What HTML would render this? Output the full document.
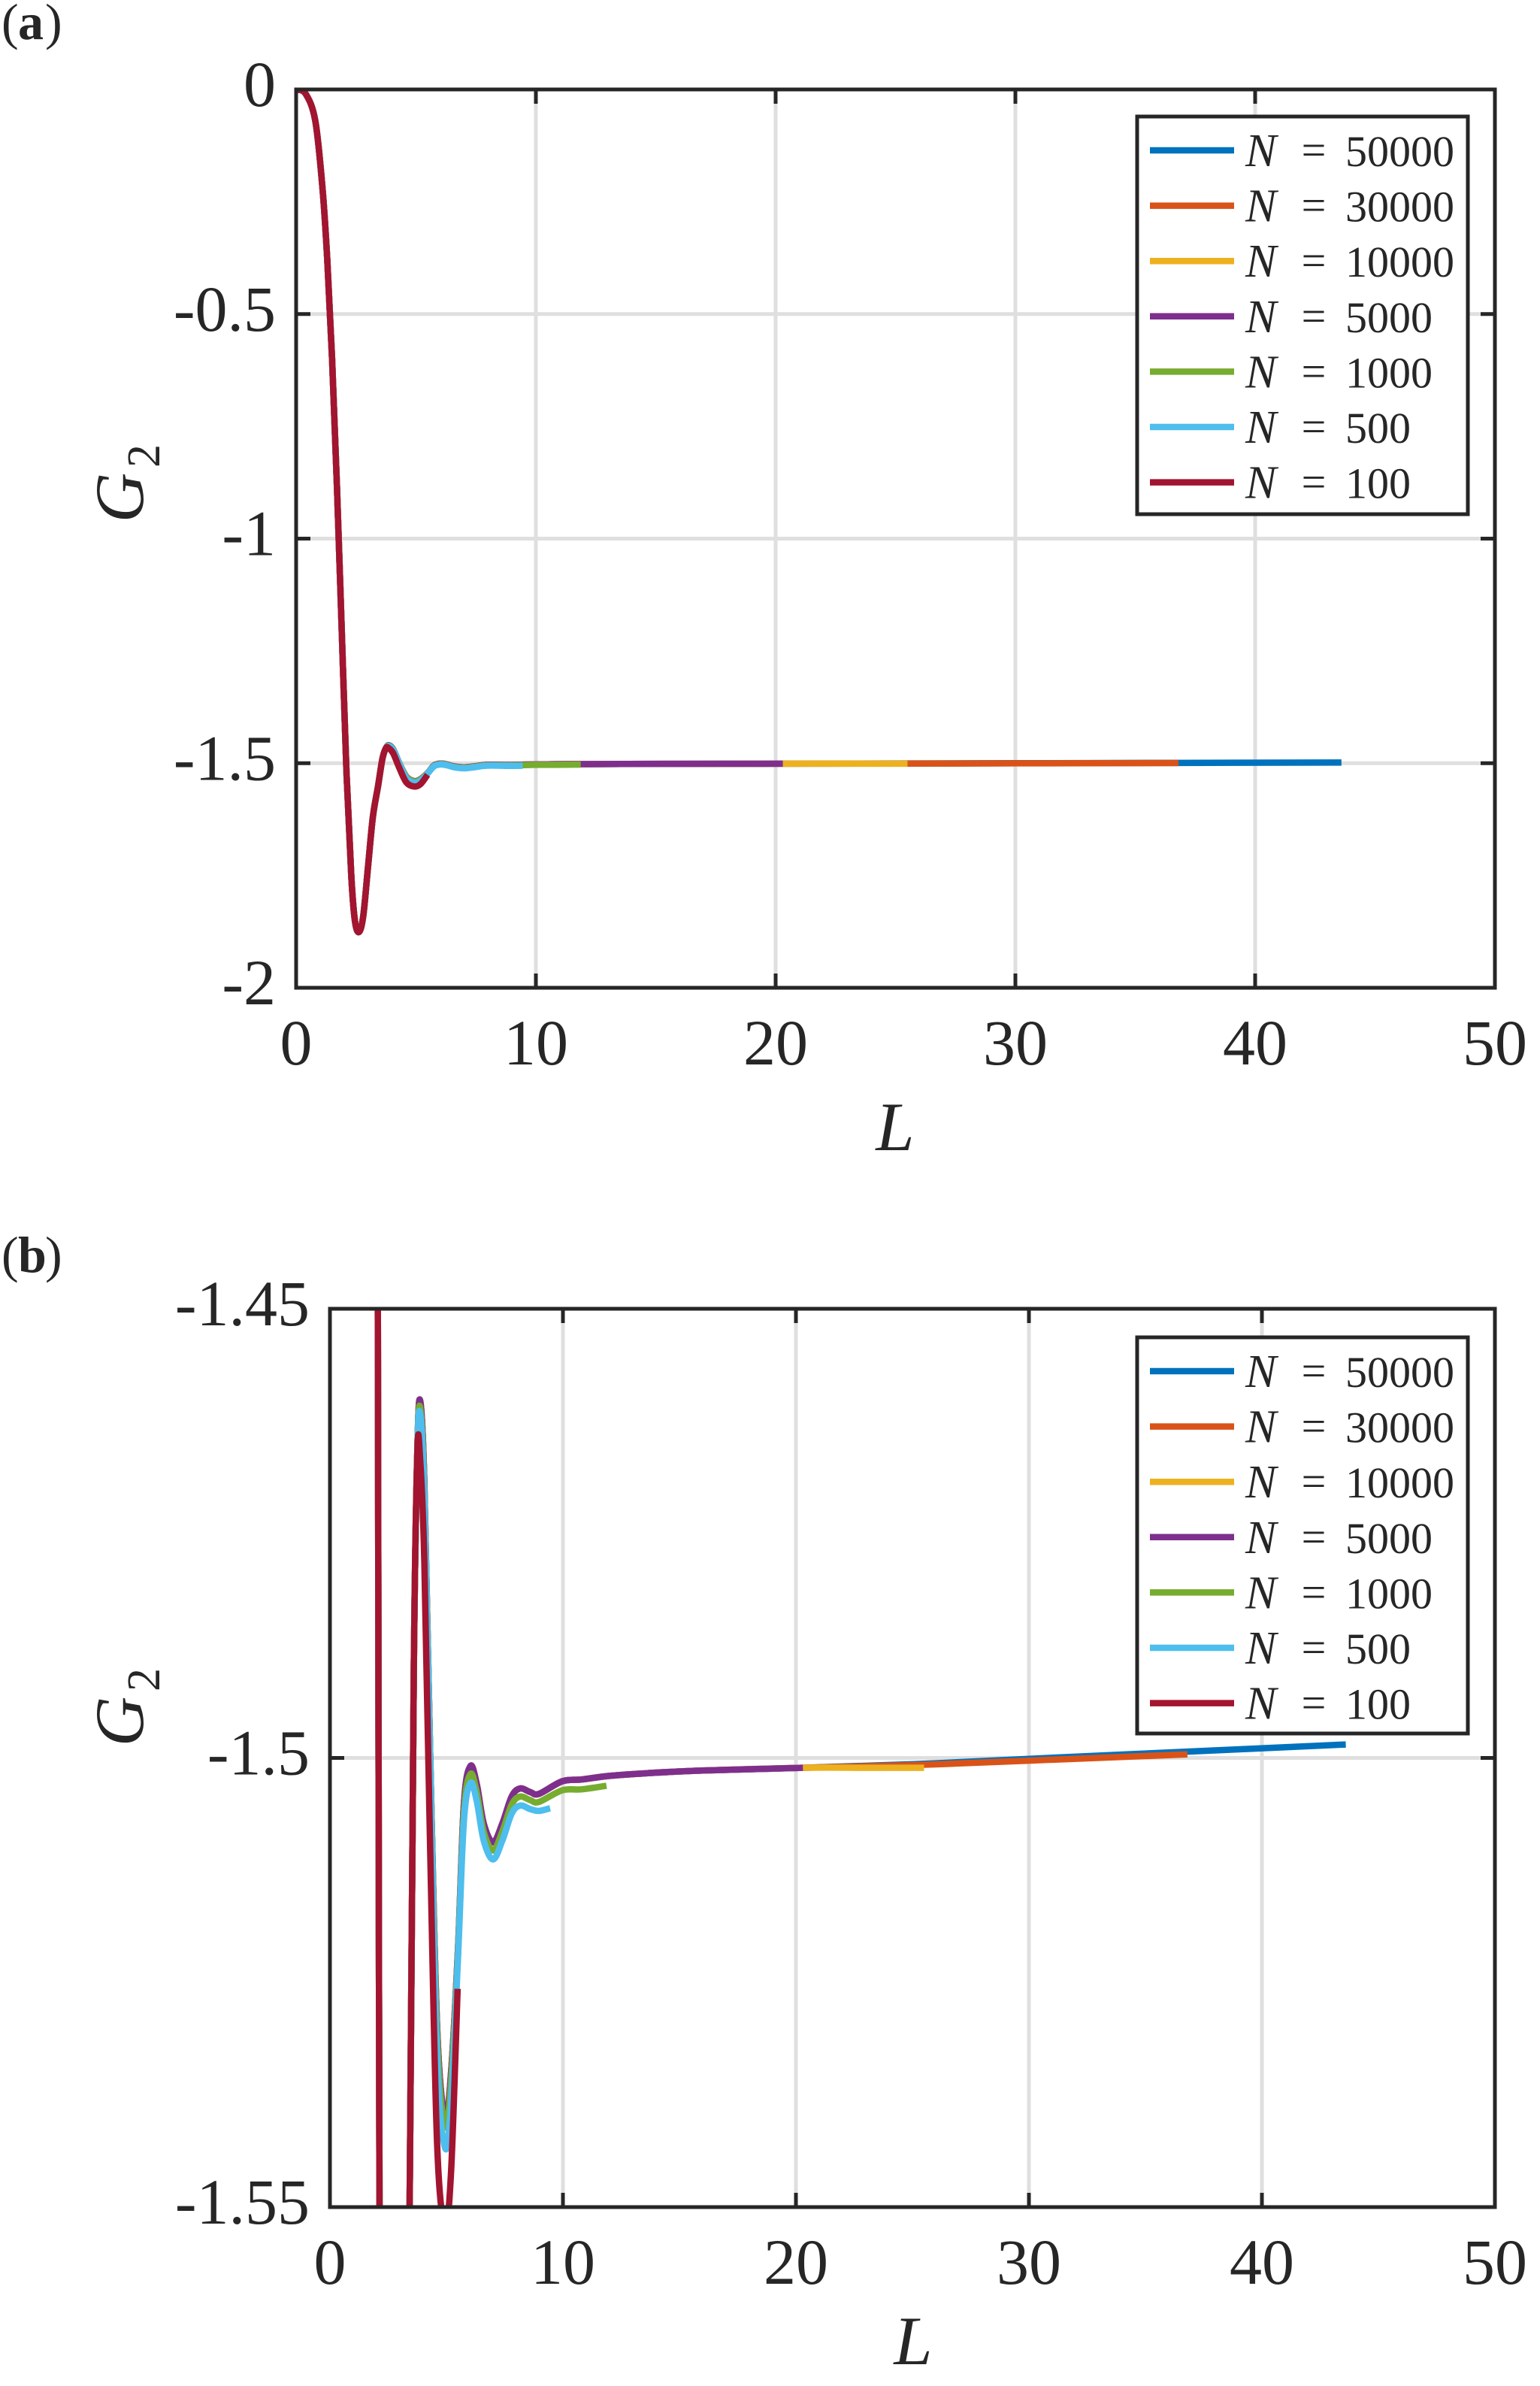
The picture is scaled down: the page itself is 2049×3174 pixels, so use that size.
<!DOCTYPE html>
<html><head><meta charset="utf-8">
<style>
html,body{margin:0;padding:0;background:#fff;overflow:hidden;}
svg{display:block;}
text{font-family:"Liberation Serif",serif;fill:#262626;}
</style></head>
<body>
<svg id="s" width="2049" height="3174" viewBox="0 0 2049 3174" xmlns="http://www.w3.org/2000/svg">
<defs>
<clipPath id="ca"><rect x="394" y="119" width="1595" height="1195"/></clipPath>
<clipPath id="cb"><rect x="439" y="1741" width="1550" height="1195"/></clipPath>
</defs>
<rect width="2049" height="3174" fill="#fff"/>
<g id="root"></g>
</svg>
<script>
const NS="http://www.w3.org/2000/svg";
const root=document.getElementById('root');
function el(tag,attrs,txt){const e=document.createElementNS(NS,tag);for(const k in attrs)e.setAttribute(k,attrs[k]);if(txt!==undefined)e.textContent=txt;root.appendChild(e);return e;}
const common=[[0,0],[0.4,-0.01],[0.8,-0.07],[1.1,-0.22],[1.3,-0.38],[1.5,-0.6],[1.7,-0.88],[1.9,-1.2],[2.1,-1.52],[2.3,-1.75],[2.45,-1.85],[2.62,-1.876],[2.8,-1.84],[3.0,-1.73],[3.2,-1.62],[3.42,-1.55],[3.6,-1.49],[3.75,-1.466]];
function mid(pk,tr,d){return [[3.87,pk],[4.05,pk-0.009],[4.3,-1.5+d*0.3],[4.6,tr+0.01],[4.94,tr],[5.2,tr+0.005],[5.5,-1.522+d*0.5],[5.75,-1.507+d],[6.03,-1.5028+d],[6.3,-1.5048+d],[6.6,-1.5092+d],[7.0,-1.5113+d],[7.4,-1.5092+d],[7.8,-1.5062+d],[8.16,-1.5053+d],[8.6,-1.5057+d],[8.97,-1.5059+d]];}
const cyan=common.concat(mid(-1.4617,-1.5434,0),[[9.45,-1.5056]]);
const green=common.concat(mid(-1.461,-1.541,0.001),[[9.97,-1.5036],[10.8,-1.5035],[11.87,-1.5031]]);
const pbase=common.concat(mid(-1.4602,-1.540,0.0019),[[9.97,-1.5026],[10.8,-1.5024],[12,-1.502],[13.6,-1.5017],[16,-1.5014],[20.3,-1.5011]]);
const purple=pbase;
const yellow=pbase.concat([[23,-1.5011],[25.5,-1.5011]]);
const orange=pbase.concat([[25,-1.5008],[30,-1.5003],[36.8,-1.4996]]);
const blue=pbase.concat([[25,-1.5007],[30,-1.5001],[36.8,-1.4993],[43.6,-1.4985]]);
const red=common.concat([[3.87,-1.4667],[4.05,-1.478],[4.3,-1.51],[4.6,-1.543],[4.94,-1.552],[5.2,-1.546],[5.48,-1.5257]]);
const series=[[blue,'#0072BD','50000'],[orange,'#D95319','30000'],[yellow,'#EDB120','10000'],[purple,'#7E2F8E','5000'],[green,'#77AC30','1000'],[cyan,'#4DBEEE','500'],[red,'#A2142F','100']];
function pathCR(pts){let d='M'+pts[0][0].toFixed(2)+','+pts[0][1].toFixed(2);
 for(let i=0;i<pts.length-1;i++){const p0=pts[Math.max(0,i-1)],p1=pts[i],p2=pts[i+1],p3=pts[Math.min(pts.length-1,i+2)];
  const c1=[p1[0]+(p2[0]-p0[0])/6,p1[1]+(p2[1]-p0[1])/6],c2=[p2[0]-(p3[0]-p1[0])/6,p2[1]-(p3[1]-p1[1])/6];
  d+=' C'+c1[0].toFixed(2)+','+c1[1].toFixed(2)+' '+c2[0].toFixed(2)+','+c2[1].toFixed(2)+' '+p2[0].toFixed(2)+','+p2[1].toFixed(2);}
 return d;}
function panel(P){
 const X=L=>P.x0+(L/50)*(P.x1-P.x0), Y=g=>P.y0+(P.ymax-g)/(P.ymax-P.ymin)*(P.y1-P.y0);
 for(const L of [10,20,30,40]) el('line',{x1:X(L),x2:X(L),y1:P.y0,y2:P.y1,stroke:'#dfdfdf','stroke-width':5});
 for(const g of P.grid) el('line',{x1:P.x0,x2:P.x1,y1:Y(g),y2:Y(g),stroke:'#dfdfdf','stroke-width':5});
 for(const [pts,c] of series){el('path',{d:pathCR(pts.map(p=>[X(p[0]),Y(p[1])])),fill:'none',stroke:c,'stroke-width':8.5,'stroke-linejoin':'round','clip-path':P.clip});}
 el('rect',{x:P.x0,y:P.y0,width:P.x1-P.x0,height:P.y1-P.y0,fill:'none',stroke:'#262626','stroke-width':5});
 const t=19;
 for(const L of [0,10,20,30,40,50]){const x=X(L);el('line',{x1:x,x2:x,y1:P.y1,y2:P.y1-t,stroke:'#262626','stroke-width':5});el('line',{x1:x,x2:x,y1:P.y0,y2:P.y0+t,stroke:'#262626','stroke-width':5});
  el('text',{x:x,y:P.y1+102,'font-size':86,'text-anchor':'middle'},String(L));}
 for(const [g,lab] of P.yt){const y=Y(g);el('line',{x1:P.x0,x2:P.x0+t,y1:y,y2:y,stroke:'#262626','stroke-width':5});el('line',{x1:P.x1,x2:P.x1-t,y1:y,y2:y,stroke:'#262626','stroke-width':5});
  el('text',{x:P.x0-27,y:y+22,'font-size':86,'text-anchor':'end'},lab);}
 el('text',{x:P.lx,y:P.ly,'font-size':92,'font-style':'italic','text-anchor':'middle'},'L');
 el('text',{transform:`translate(${P.gx},${P.gy}) rotate(-90)`,'font-size':92,'font-style':'italic','text-anchor':'middle'},'G');
 el('text',{transform:`translate(${P.gx+22},${P.gy-40}) rotate(-90)`,'font-size':62},'2');
 el('text',{x:2,y:P.pl,'font-size':68},'(');
 el('text',{x:24,y:P.pl,'font-size':68,'font-weight':'bold'},P.tag);
 el('text',{x:60,y:P.pl,'font-size':68},')');
 el('rect',{x:1513,y:P.lgy,width:440,height:P.lgh,fill:'#fff',stroke:'#262626','stroke-width':5});
 series.forEach(([pts,c,n],i)=>{const y=P.lgy+45+i*73.6;
  el('line',{x1:1530,x2:1642,y1:y,y2:y,stroke:c,'stroke-width':8.5});
  el('text',{x:1657,y:y+21,'font-size':62,'font-style':'italic'},'N');
  el('text',{x:1748,y:y+19,'font-size':58,'text-anchor':'middle'},'=');
  el('text',{x:1790,y:y+21,'font-size':58},n);});
}
panel({x0:394,x1:1989,y0:119,y1:1314,ymax:0,ymin:-2,grid:[-0.5,-1,-1.5],clip:'url(#ca)',
 yt:[[0,'0'],[-0.5,'-0.5'],[-1,'-1'],[-1.5,'-1.5'],[-2,'-2']],lx:1191,ly:1530,gx:190,gy:662,pl:52,tag:'a',lgy:155,lgh:529});
panel({x0:439,x1:1989,y0:1741,y1:2936,ymax:-1.45,ymin:-1.55,grid:[-1.5],clip:'url(#cb)',
 yt:[[-1.45,'-1.45'],[-1.5,'-1.5'],[-1.55,'-1.55']],lx:1215,ly:3145,gx:190,gy:2290,pl:1692,tag:'b',lgy:1779,lgh:527});
</script>
</body></html>
